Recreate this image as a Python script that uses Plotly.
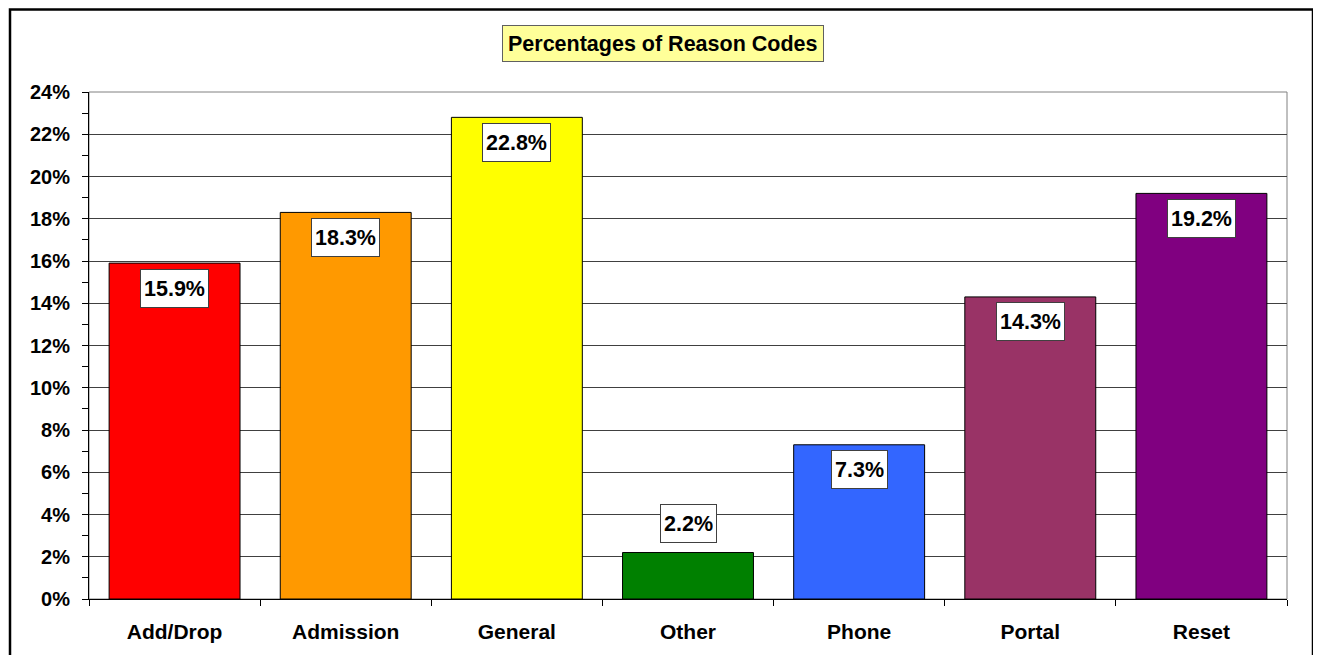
import plotly.graph_objects as go

categories = ["Add/Drop", "Admission", "General", "Other", "Phone", "Portal", "Reset"]
percentages = [15.9, 18.3, 22.8, 2.2, 7.3, 14.3, 19.2]
bar_colors = ["#FF0000", "#FF9900", "#FFFF00", "#008000", "#3366FF", "#993366", "#800080"]
y_tick_values = list(range(0, 25, 2))
y_tick_labels = [f"{v}%" for v in y_tick_values]
title_text = "Percentages of Reason Codes"

# page body margin offsets the figure by 8px
OFF = 8
W, H = 1321 - OFF, 655 - OFF
L, R, T, B = 89 - OFF, 1287 - OFF, 92 - OFF, 602 - OFF

def px_to_paper_x(px):
    return (px - OFF - L) / (R - L)

def px_to_paper_y(py):
    return (B - (py - OFF)) / (B - T)

FONT = "Liberation Sans, Arial, sans-serif"

fig = go.Figure()
fig.add_trace(go.Bar(
    x=categories,
    y=percentages,
    marker=dict(color=bar_colors, line=dict(color="#000000", width=1)),
    hoverinfo="skip",
))

annotations = []
for c, v in zip(categories, percentages):
    inside = v >= 4
    annotations.append(dict(
        x=c, y=v, xref="x", yref="y",
        text=f"<b>{v:.1f}%</b>",
        showarrow=False,
        yshift=-25 if inside else 29,
        font=dict(family=FONT, size=21.5, color="#000000"),
        bgcolor="#FFFFFF",
        bordercolor="#404040",
        borderwidth=1,
        borderpad=3,
        height=31,
    ))

annotations.append(dict(
    x=px_to_paper_x(662.5), y=px_to_paper_y(43.5), xref="paper", yref="paper",
    text=f"<b>{title_text}</b>",
    showarrow=False,
    font=dict(family=FONT, size=21.5, color="#000000"),
    bgcolor="#FFFF99",
    bordercolor="#606060",
    borderwidth=1,
    borderpad=5,
    height=25,
    xanchor="center", yanchor="middle",
))

shapes = [
    dict(type="rect", xref="paper", yref="paper", x0=0, x1=1, y0=0, y1=1,
         line=dict(color="#808080", width=1), layer="below"),
    dict(type="rect", xref="paper", yref="paper",
         x0=px_to_paper_x(10), x1=px_to_paper_x(1313),
         y0=px_to_paper_y(680), y1=px_to_paper_y(9),
         line=dict(color="#000000", width=2.5), layer="above"),
]

fig.update_layout(
    width=W, height=H,
    margin=dict(l=L, r=W - R, t=T, b=H - B, pad=0),
    paper_bgcolor="#FFFFFF",
    plot_bgcolor="#FFFFFF",
    bargap=0.235,
    showlegend=False,
    annotations=annotations,
    shapes=shapes,
    font=dict(family=FONT, color="#000000"),
)

fig.update_yaxes(
    range=[0, 24],
    tickvals=y_tick_values,
    ticktext=y_tick_labels,
    tickfont=dict(family=FONT, size=20, color="#000000", weight="bold"),
    ticks="outside", ticklen=6, tickcolor="#000000", tickwidth=1,
    minor=dict(dtick=1, tick0=0, ticks="outside", ticklen=6, tickcolor="#000000", showgrid=False),
    showgrid=True, gridcolor="#404040", gridwidth=1,
    showline=True, linecolor="#000000", linewidth=1,
    zeroline=False,
    ticklabelstandoff=8,
    fixedrange=True,
)
fig.update_xaxes(
    tickfont=dict(family=FONT, size=21, color="#000000", weight="bold"),
    ticks="outside", ticklen=6, tickcolor="#000000", tickwidth=1,
    tickson="boundaries",
    showgrid=False,
    showline=True, linecolor="#000000", linewidth=1,
    ticklabelstandoff=14,
    fixedrange=True,
)

fig.write_html("out.html", config={"displayModeBar": False})
